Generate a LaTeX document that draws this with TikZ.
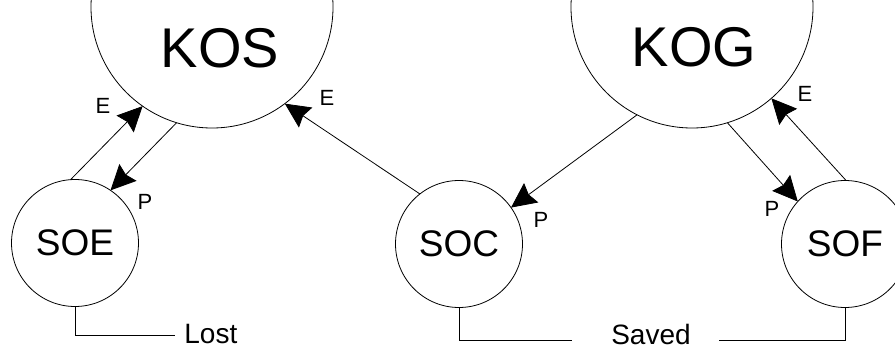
\documentclass[tikz,border=0pt]{standalone}
\usepackage{fontspec}
\setmainfont{Liberation Sans}
\usetikzlibrary{arrows.meta}
\tikzset{
  pool/.style={circle,draw,outer sep=0pt,minimum size=242pt},
  sink/.style={circle,draw,outer sep=0pt,minimum size=127pt,font=\fontsize{37}{40}\selectfont},
  flow/.style={-{Stealth[length=25pt,width=24pt,inset=3pt]}},
  tag/.style={font=\fontsize{22}{24}\selectfont,inner sep=0pt},
  fate/.style={font=\fontsize{28}{30}\selectfont,inner sep=0pt},
}

\begin{document}
\begin{tikzpicture}[x=1pt,y=-1pt,line width=0.8pt]
		\clip (0,0) rectangle (895,350);
			% the two big pools
			\node[pool] (kos) at (212,7) {};
			\node[pool] (kog) at (692,7) {};
			\node[font=\fontsize{56}{60}\selectfont] (kostxt) at (220,48) {KOS};
			\node[font=\fontsize{56}{60}\selectfont] (kogtxt) at (694,47) {KOG};
			% the small ones
			\node[sink] (soe) at (75,243) {SOE};
			\node[sink] (soc) at (459,244) {SOC};
			\node[sink] (sof) at (845,244) {SOF};
			% flows
			\draw[flow] (soe.94) -- (kos.235);
			\draw[flow] (kos.253) -- (soe.56);
			\draw[flow] (soc.128) -- (kos.307);
			\draw[flow] (kog.243) -- (soc.35);
			\draw[flow] (kog.287) -- (sof.138);
			\draw[flow] (sof.89) -- (kog.311);
			\node[tag] (e1) at (103,106) {E};
			\node[tag] (p1) at (145,202) {P};
			\node[tag] (e2) at (327,98) {E};
			\node[tag] (p2) at (541,220) {P};
			\node[tag] (p3) at (772,209) {P};
			\node[tag] (e3) at (805,94) {E};
			% what becomes of them
			\node[fate,anchor=west] (lost) at (184,334) {Lost};
			\draw (soe.south) |- ([xshift=-9pt,yshift=-1pt]lost.west);
			\node[fate] (saved) at (651,334.5) {Saved};
			\coordinate (savedl) at (572,340);
			\coordinate (savedr) at (719,340);
			\draw (soc.south) |- (savedl);
			\draw (savedr) -| (sof.south);
	\end{tikzpicture}
\end{document}
